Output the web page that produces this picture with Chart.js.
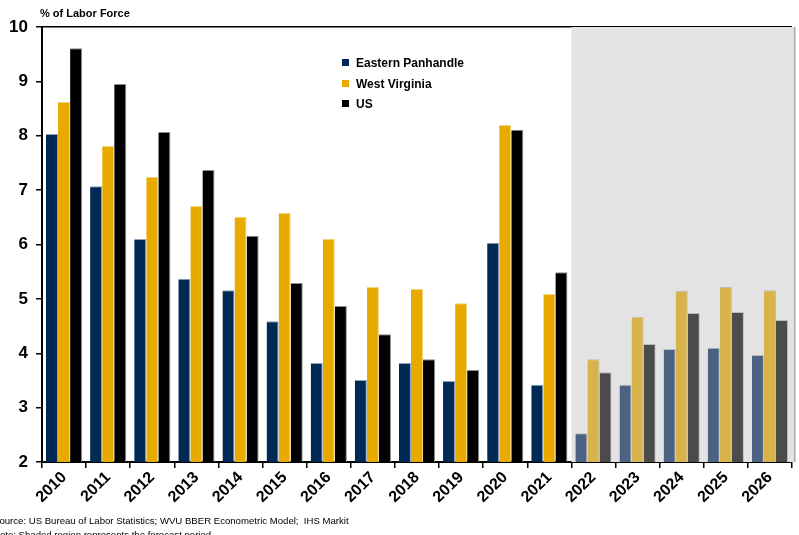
<!DOCTYPE html>
<html>
<head>
<meta charset="utf-8">
<script src="https://cdn.jsdelivr.net/npm/chart.js@4"></script>
<style>
  body { margin: 0; background: #fff; }
  #wrap { position: relative; width: 799px; height: 535px; overflow: hidden; font-family: "Liberation Sans", Arial, sans-serif; }
  #chart { position: absolute; left: 0; top: 0; }
  .title { position: absolute; left: 40px; top: 7px; font-size: 11px; font-weight: bold; color: #000; }
  .legend { position: absolute; left: 342px; top: 55px; font-size: 12px; font-weight: bold; color: #000; }
  .legend div { height: 20.5px; line-height: 16px; white-space: nowrap; }
  .legend span { display: inline-block; width: 7px; height: 7px; margin-right: 7px; vertical-align: 1px; }
  .note { position: absolute; left: -7px; font-size: 9.6px; color: #000; white-space: nowrap; }
</style>
</head>
<body>
<div id="wrap">
  <canvas id="chart" width="799" height="535"></canvas>
  <div class="title">% of Labor Force</div>
  <div class="legend" id="legend"></div>
  <div class="note" style="top:515px">Source: US Bureau of Labor Statistics; WVU BBER Econometric Model;&nbsp; IHS Markit</div>
  <div class="note" style="top:529px">Note: Shaded region represents the forecast period</div>
</div>
<script>
const years = ['2010','2011','2012','2013','2014','2015','2016','2017','2018','2019','2020','2021','2022','2023','2024','2025','2026'];
const easternPanhandle = [8.03, 7.07, 6.10, 5.37, 5.16, 4.59, 3.82, 3.51, 3.82, 3.49, 6.03, 3.42, 2.53, 3.42, 4.08, 4.10, 3.97];
const westVirginia = [8.62, 7.81, 7.24, 6.71, 6.51, 6.58, 6.10, 5.22, 5.18, 4.92, 8.20, 5.09, 3.89, 4.67, 5.15, 5.22, 5.16];
const unitedStates = [9.61, 8.95, 8.07, 7.37, 6.16, 5.29, 4.87, 4.35, 3.89, 3.69, 8.11, 5.49, 3.65, 4.17, 4.74, 4.76, 4.61];
const firstForecastYear = '2022';
const yTicks = [2, 3, 4, 5, 6, 7, 8, 9, 10];

const series = [
  { label: 'Eastern Panhandle', data: easternPanhandle, color: '#002a55', forecast: '#4b6283', edge: '#8fa3bd' },
  { label: 'West Virginia', data: westVirginia, color: '#e9aa00', forecast: '#d8b24b', edge: '#f2d27a' },
  { label: 'US', data: unitedStates, color: '#000000', forecast: '#4b4b4b', edge: '#8a8a8a' }
];

const forecastStart = years.indexOf(firstForecastYear);

// legend is plain html, sits inside the plot
const legend = document.getElementById('legend');
series.forEach(s => {
  const row = document.createElement('div');
  row.innerHTML = `<span style="background:${s.color}"></span>${s.label}`;
  legend.appendChild(row);
});

const shadePlugin = {
  id: 'forecastShade',
  beforeDatasetsDraw(chart) {
    const { ctx, chartArea, scales: { x } } = chart;
    const left = (x.getPixelForValue(forecastStart) + x.getPixelForValue(forecastStart - 1)) / 2;
    ctx.save();
    ctx.fillStyle = '#e3e3e3';
    ctx.fillRect(left, chartArea.top, chartArea.right + 3 - left, chartArea.bottom - chartArea.top);
    ctx.fillStyle = '#a8a8a8';
    ctx.fillRect(chartArea.right + 2, chartArea.top, 1.5, chartArea.bottom - chartArea.top);
    ctx.restore();
  }
};

new Chart(document.getElementById('chart'), {
  type: 'bar',
  data: {
    labels: years,
    datasets: series.map(s => ({
      label: s.label,
      data: s.data,
      backgroundColor: years.map((y, i) => i >= forecastStart ? s.forecast : s.color),
      borderColor: years.map((y, i) => i >= forecastStart ? 'rgba(150,150,150,0.5)' : s.edge),
      borderWidth: { top: 1, right: 1, left: 0, bottom: 0 },
      borderSkipped: 'bottom',
      categoryPercentage: 0.82,
      barPercentage: 1.0
    }))
  },
  options: {
    responsive: false,
    animation: false,
    layout: { padding: { left: 0, top: 27, right: 7, bottom: 0 } },
    plugins: {
      legend: { display: false },
      tooltip: { enabled: false }
    },
    scales: {
      x: {
        afterFit: scale => { scale.height = 73; },
        border: { color: '#000', width: 2 },
        grid: { offset: true, drawOnChartArea: false, drawTicks: true, tickLength: 6, color: '#000', lineWidth: 1.5 },
        ticks: {
          color: '#000',
          font: { family: 'Liberation Sans', size: 16, weight: 'bold' },
          maxRotation: 45,
          minRotation: 45,
          padding: 0,
          autoSkip: false
        }
      },
      y: {
        min: 2,
        max: 10,
        afterFit: scale => { scale.width = 42; },
        afterBuildTicks: scale => { scale.ticks = yTicks.map(v => ({ value: v })); },
        border: { color: '#000', width: 2 },
        grid: {
          drawTicks: true,
          tickLength: 6,
          tickColor: '#000',
          lineWidth: 1.5,
          color: c => c.tick && c.tick.value === 10 ? '#000' : 'rgba(0,0,0,0)'
        },
        ticks: {
          color: '#000',
          font: { family: 'Liberation Sans', size: 17, weight: 'bold' },
          padding: 8
        }
      }
    }
  },
  plugins: [shadePlugin]
});
</script>
</body>
</html>
